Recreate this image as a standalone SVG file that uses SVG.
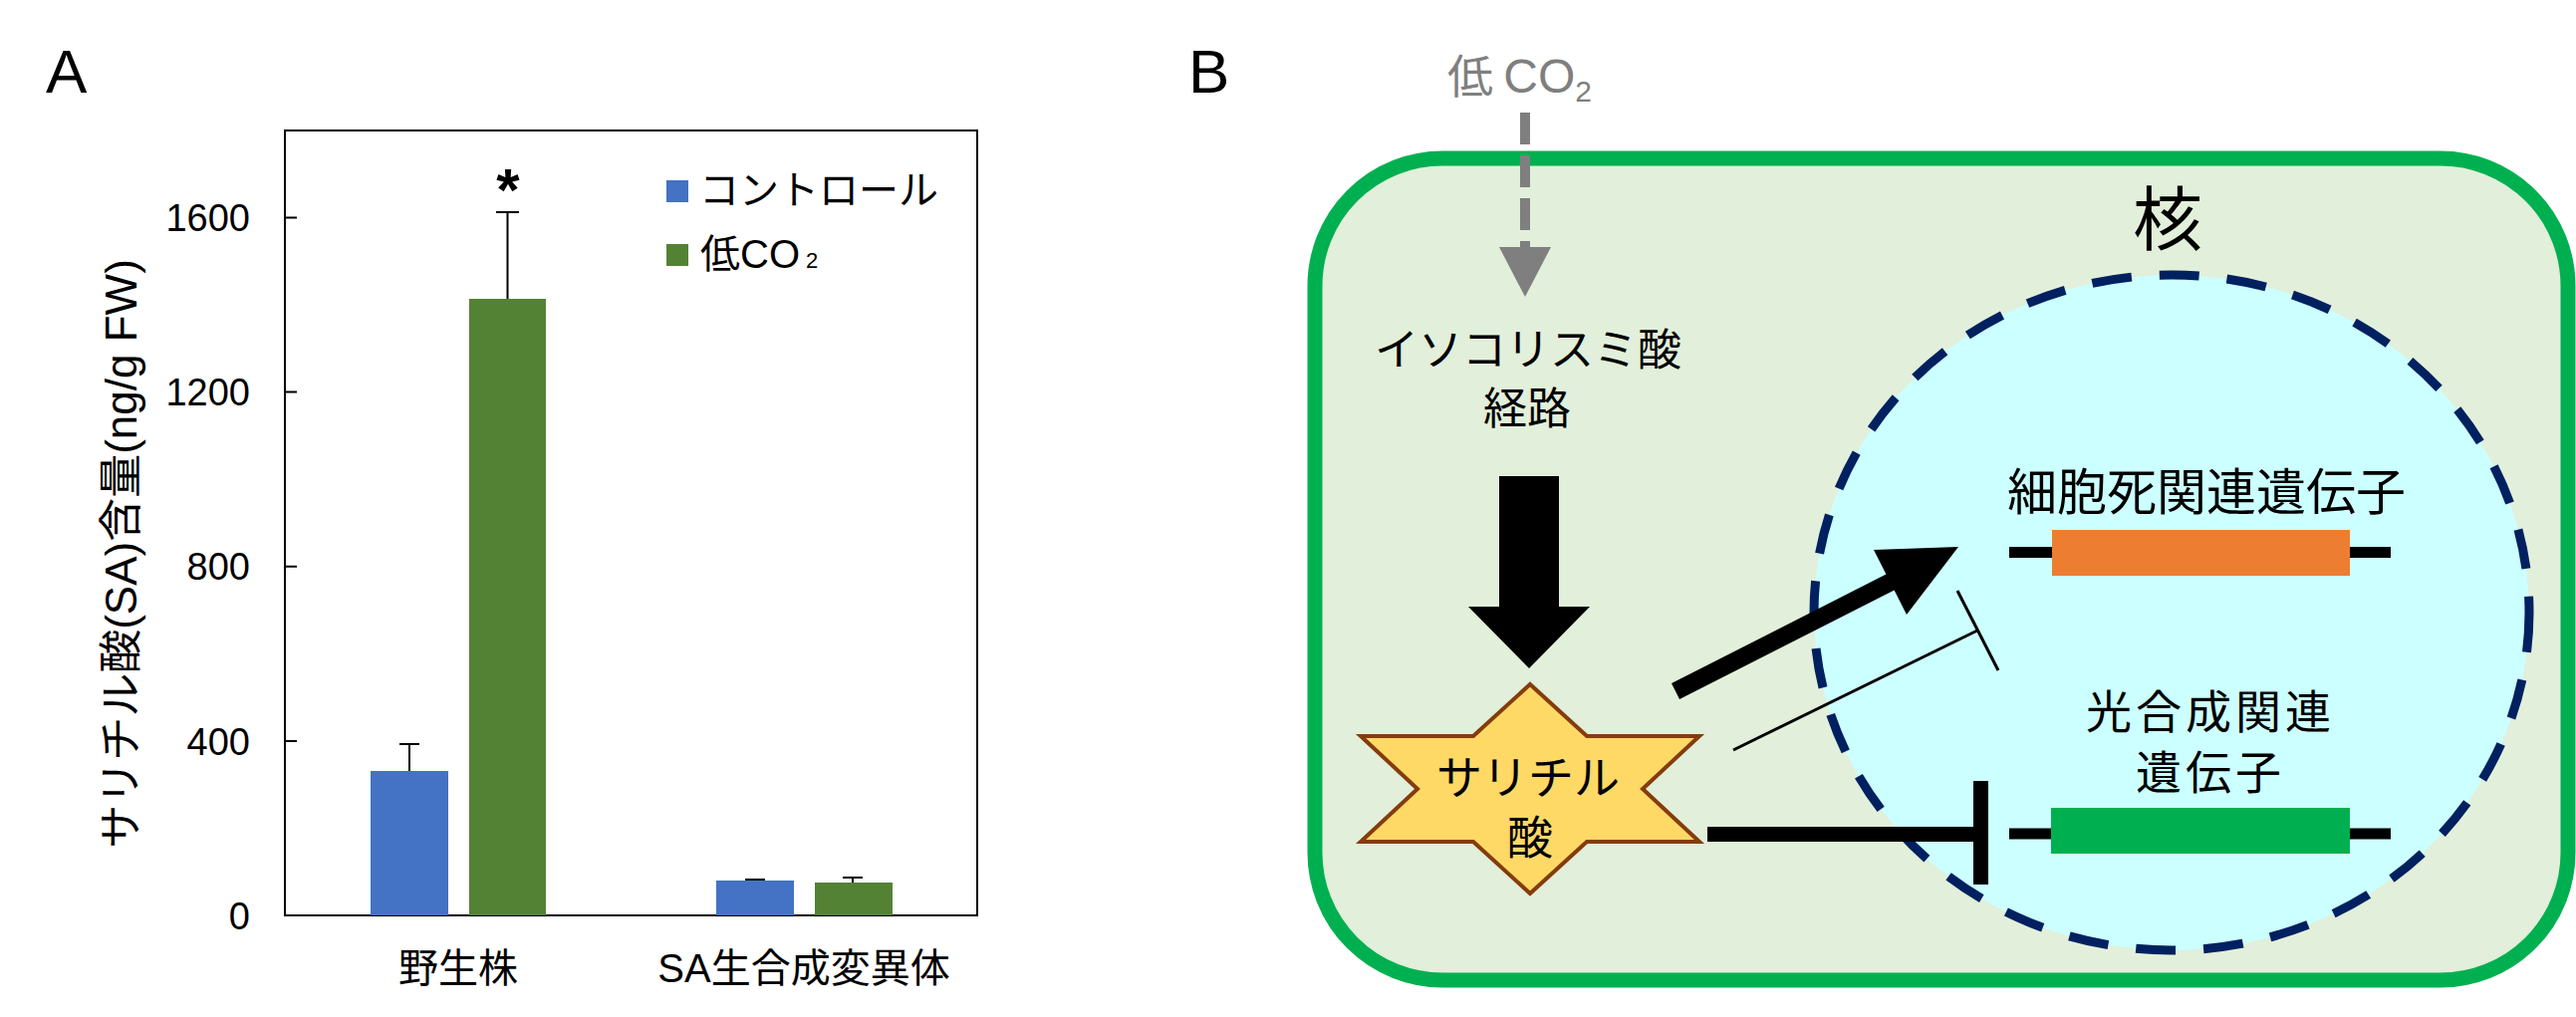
<svg xmlns="http://www.w3.org/2000/svg" width="2586" height="1021" viewBox="0 0 2586 1021">
<style>
  text { font-family: "Liberation Sans", "Noto Sans CJK JP", sans-serif; fill: #000; }
  .jp { font-family: "Noto Sans CJK JP", "Liberation Sans", sans-serif; }
  .tick { font-size: 38px; text-anchor: end; }
  .cat { font-size: 40px; text-anchor: middle; }
  .err { stroke: #000; stroke-width: 2; fill: none; }
  .ctrl { fill: #4472C4; }
  .low { fill: #548235; }
  .gene { font-size: 50px; text-anchor: middle; }
  .gene2 { font-size: 46px; letter-spacing: 4px; text-anchor: middle; }
  .gline { stroke: #000; stroke-width: 11; }
</style>

<!-- Panel A -->
<g id="panelA">
  <text id="labelA" x="46" y="93" font-size="62">A</text>
  <g id="axes">
    <rect x="286" y="131" width="695" height="788" fill="#fff" stroke="#000" stroke-width="2"/>
    <path d="M286 218.5h12M286 393.6h12M286 568.8h12M286 743.9h12" stroke="#000" stroke-width="2"/>
    <text class="tick" x="251" y="932.5">0</text>
    <text class="tick" x="251" y="757.5">400</text>
    <text class="tick" x="251" y="582.3">800</text>
    <text class="tick" x="251" y="407.1">1200</text>
    <text class="tick" x="251" y="232">1600</text>
    <text transform="translate(137,556) rotate(-90)" font-size="44" text-anchor="middle">サリチル酸(SA)含量(ng/g FW)</text>
    <text class="cat" x="460" y="986">野生株</text>
    <text class="cat" x="807" y="986">SA生合成変異体</text>
  </g>
  <g id="bars">
    <rect class="ctrl" x="372" y="774" width="78" height="145"/>
    <rect class="low" x="471" y="300" width="77" height="619"/>
    <rect class="ctrl" x="719" y="884" width="78" height="35"/>
    <rect class="low" x="818" y="886" width="78" height="33"/>
  </g>
  <g id="errorbars">
    <path class="err" d="M411 774V747M401 747h20"/>
    <path class="err" d="M509.5 300V213M498 213h23"/>
    <path class="err" d="M758 884V883M748 883h20"/>
    <path class="err" d="M856 886V881M846 881h20"/>
  </g>
  <text id="signif" x="510" y="211" font-size="60" font-weight="bold" text-anchor="middle">*</text>
  <g id="legend">
    <rect class="ctrl" x="669" y="181" width="22" height="22"/>
    <text x="702" y="205" font-size="40">コントロール</text>
    <rect class="low" x="669" y="245" width="22" height="22"/>
    <text x="703" y="269" font-size="40">低CO<tspan font-size="22" dx="6">2</tspan></text>
  </g>
</g>

<!-- Panel B -->
<g id="panelB">
  <text id="labelB" x="1193" y="93" font-size="62">B</text>
  <g id="cell">
    <rect x="1320" y="159" width="1258" height="825" rx="128" ry="128" fill="#E2EFDA" stroke="#00B050" stroke-width="15"/>
  </g>
  <g id="nucleus">
    <ellipse cx="2180" cy="615" rx="359" ry="339" fill="#CCFFFF" stroke="#002060" stroke-width="9" stroke-dasharray="40 28"/>
    <text class="jp" x="2176" y="246" font-size="70" text-anchor="middle">核</text>
  </g>
  <g id="lowCO2">
    <text class="jp" x="1453" y="93" font-size="46" style="fill:#7F7F7F">低 <tspan style="font-family:'Liberation Sans',sans-serif" font-size="48">CO</tspan><tspan style="font-family:'Liberation Sans',sans-serif" font-size="30" dy="9">2</tspan></text>
  </g>
  <g id="isochorismate">
    <text class="jp" x="1534" y="367" font-size="44" text-anchor="middle">イソコリスミ酸</text>
    <text class="jp" x="1533" y="426" font-size="44" text-anchor="middle">経路</text>
  </g>
  <g id="salicylic">
    <polygon points="1536,687 1593,739 1706,739 1649,792 1706,845 1593,845 1536,897 1479,845 1366,845 1423,792 1366,739 1479,739" fill="#FFD966" stroke="#843C0C" stroke-width="4" stroke-linejoin="miter"/>
    <text class="jp" x="1534" y="797" font-size="46" text-anchor="middle">サリチル</text>
    <text class="jp" x="1536" y="857" font-size="46" text-anchor="middle">酸</text>
  </g>
  <g id="geneDeath">
    <text class="jp gene" x="2215" y="512">細胞死関連遺伝子</text>
    <line class="gline" x1="2017" y1="554.5" x2="2400" y2="554.5"/>
    <rect x="2060" y="532" width="299" height="46" fill="#ED7D31"/>
  </g>
  <g id="genePhoto">
    <text class="jp gene2" x="2219" y="731">光合成関連</text>
    <text class="jp gene2" x="2219" y="792">遺伝子</text>
    <line class="gline" x1="2017" y1="837" x2="2400" y2="837"/>
    <rect x="2059" y="811" width="300" height="46" fill="#00B050"/>
  </g>
  <g id="connectors">
    <line x1="1531" y1="113" x2="1531" y2="250" stroke="#7F7F7F" stroke-width="10" stroke-dasharray="32 11"/>
    <polygon points="1505,248 1557,248 1531,298" fill="#7F7F7F"/>
    <polygon points="1505,478 1565,478 1565,609 1596,609 1535,671 1474,609 1505,609" fill="#000"/>
    <polygon points="1678,686 1893.4,576.5 1881,552 1966,549 1914,617 1901.6,592.5 1686,702" fill="#000"/>
    <line x1="1740" y1="753" x2="1985" y2="633" stroke="#000" stroke-width="3"/>
    <line x1="1965" y1="593" x2="2006" y2="673" stroke="#000" stroke-width="3"/>
    <line x1="1714" y1="837.5" x2="1988" y2="837.5" stroke="#000" stroke-width="15"/>
    <line x1="1988.5" y1="784" x2="1988.5" y2="888" stroke="#000" stroke-width="15"/>
  </g>
</g>
</svg>
